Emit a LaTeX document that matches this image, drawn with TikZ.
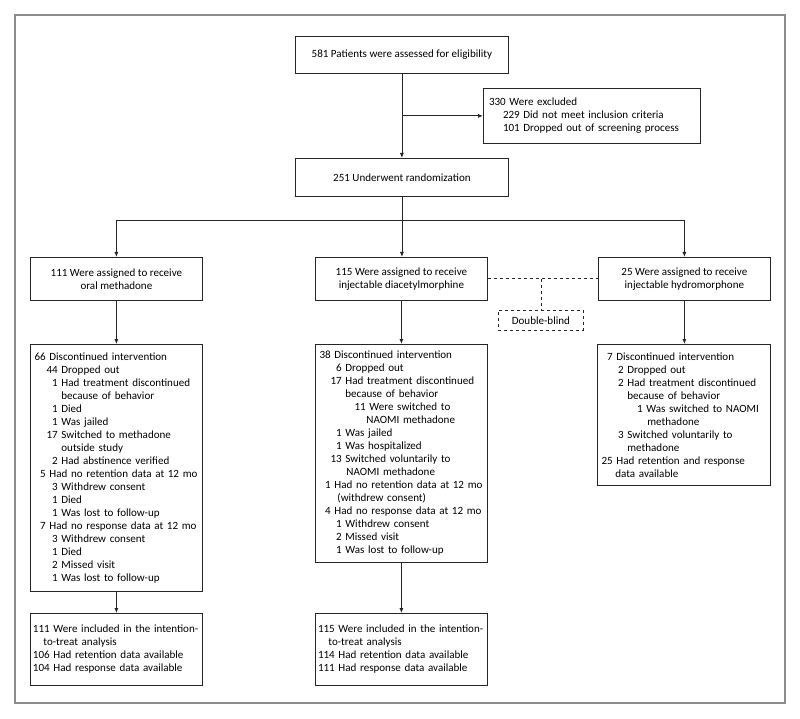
\documentclass[tikz,border=0pt]{standalone}
\usepackage{fontspec}
\setmainfont{Carlito}
\usetikzlibrary{arrows.meta}
\newcommand{\Lx}[3]{\mbox{\makebox[#1][r]{#2\hspace{3.6pt}}#3}\par}
\newcommand{\Cx}[2]{\mbox{\hspace*{#1}#2}\par}
\begin{document}
\begin{tikzpicture}[x=1pt,y=-1pt,
  box/.style={draw=black!85, line width=0.8pt, inner sep=0pt, font=\fontsize{11.05}{13}\selectfont, anchor=north west},
  cbox/.style={box, align=center},
  lbox/.style={box, align=left, text width=#1},
  dbox/.style={box, dashed},
  line/.style={draw=black!85, line width=0.8pt},
  arr/.style={line, -{Latex[length=5pt,width=4pt]}},
  dashline/.style={line, dashed},
  frame/.style={draw=black!45, line width=1.6pt}
]
\useasboundingbox (0,0) rectangle (800,719);
\draw[frame] (15,15) rectangle (785,703);

\node[cbox, minimum width=213, minimum height=37] (elig) at (295,36) {581 Patients were assessed for eligibility};
\node[lbox=217, minimum height=55] (excl) at (483,88) {\Lx{26pt}{330}{Were excluded}\Lx{40pt}{229}{Did not meet inclusion criteria}\Lx{40pt}{101}{Dropped out of screening process}};
\node[cbox, minimum width=213, minimum height=38] (rand) at (295,158) {251 Underwent randomization};

\node[cbox, minimum width=172, minimum height=43] (armA) at (30,257) {111 Were assigned to receive\\oral methadone};
\node[cbox, minimum width=172, minimum height=43] (armB) at (315,257) {115 Were assigned to receive\\injectable diacetylmorphine};
\node[cbox, minimum width=172, minimum height=43] (armC) at (598,257) {25 Were assigned to receive\\injectable hydromorphone};

\node[dbox, minimum width=85, minimum height=20] (dbl) at (498,310) {Double-blind};

\node[lbox=172, minimum height=247] (detA) at (30,344) {%
\Lx{19pt}{66}{Discontinued intervention}%
\Lx{31pt}{44}{Dropped out}%
\Lx{31pt}{1}{Had treatment discontinued}%
\Cx{31pt}{because of behavior}%
\Lx{31pt}{1}{Died}%
\Lx{31pt}{1}{Was jailed}%
\Lx{31pt}{17}{Switched to methadone}%
\Cx{31pt}{outside study}%
\Lx{31pt}{2}{Had abstinence verified}%
\Lx{19pt}{5}{Had no retention data at 12 mo}%
\Lx{31pt}{3}{Withdrew consent}%
\Lx{31pt}{1}{Died}%
\Lx{31pt}{1}{Was lost to follow-up}%
\Lx{19pt}{7}{Had no response data at 12 mo}%
\Lx{31pt}{3}{Withdrew consent}%
\Lx{31pt}{1}{Died}%
\Lx{31pt}{2}{Missed visit}%
\Lx{31pt}{1}{Was lost to follow-up}};

\node[lbox=172, minimum height=218] (detB) at (315,344) {%
\Lx{19pt}{38}{Discontinued intervention}%
\Lx{30pt}{6}{Dropped out}%
\Lx{30pt}{17}{Had treatment discontinued}%
\Cx{30pt}{because of behavior}%
\Lx{54pt}{11}{Were switched to}%
\Cx{51pt}{NAOMI methadone}%
\Lx{30pt}{1}{Was jailed}%
\Lx{30pt}{1}{Was hospitalized}%
\Lx{30pt}{13}{Switched voluntarily to}%
\Cx{31pt}{NAOMI methadone}%
\Lx{19pt}{1}{Had no retention data at 12 mo}%
\Cx{22pt}{(withdrew consent)}%
\Lx{19pt}{4}{Had no response data at 12 mo}%
\Lx{30pt}{1}{Withdrew consent}%
\Lx{30pt}{2}{Missed visit}%
\Lx{30pt}{1}{Was lost to follow-up}};

\node[lbox=173, minimum height=141] (detC) at (597,344) {%
\Lx{19pt}{7}{Discontinued intervention}%
\Lx{30pt}{2}{Dropped out}%
\Lx{30pt}{2}{Had treatment discontinued}%
\Cx{30pt}{because of behavior}%
\Lx{49pt}{1}{Was switched to NAOMI}%
\Cx{50pt}{methadone}%
\Lx{30pt}{3}{Switched voluntarily to}%
\Cx{30pt}{methadone}%
\Lx{19pt}{25}{Had retention and response}%
\Cx{18pt}{data available}};

\node[lbox=172, minimum height=72] (finA) at (30,613) {%
\Lx{23pt}{111}{Were included in the intention-}%
\Cx{13pt}{to-treat analysis}%
\Lx{23pt}{106}{Had retention data available}%
\Lx{23pt}{104}{Had response data available}};

\node[lbox=172, minimum height=72] (finB) at (315,613) {%
\Lx{23pt}{115}{Were included in the intention-}%
\Cx{13pt}{to-treat analysis}%
\Lx{23pt}{114}{Had retention data available}%
\Lx{23pt}{111}{Had response data available}};

% connectors
\draw[arr] (elig.south) -- (rand.north);
\coordinate (exsplit) at (elig.south |- excl.west);
\draw[arr] (exsplit) -- (excl.west);
\draw[arr] (rand.south) -- (rand.south |- armB.north);
\coordinate (brA) at (armA.north |- 0,220);
\coordinate (brC) at (armC.north |- 0,220);
\draw[line] (brA) -- (brC);
\draw[arr] (brA) -- (armA.north);
\draw[arr] (brC) -- (armC.north);
\draw[arr] (armA.south) -- (detA.north);
\draw[arr] (armB.south) -- (detB.north);
\draw[arr] (armC.south) -- (armC.south |- detC.north);
\draw[arr] (detA.south) -- (finA.north);
\draw[arr] (detB.south) -- (finB.north);
\draw[dashline] (armB.east) -- (armC.west);
\coordinate (dsplit) at (dbl.north |- armB.east);
\draw[dashline] (dsplit) -- (dbl.north);
\end{tikzpicture}
\end{document}
